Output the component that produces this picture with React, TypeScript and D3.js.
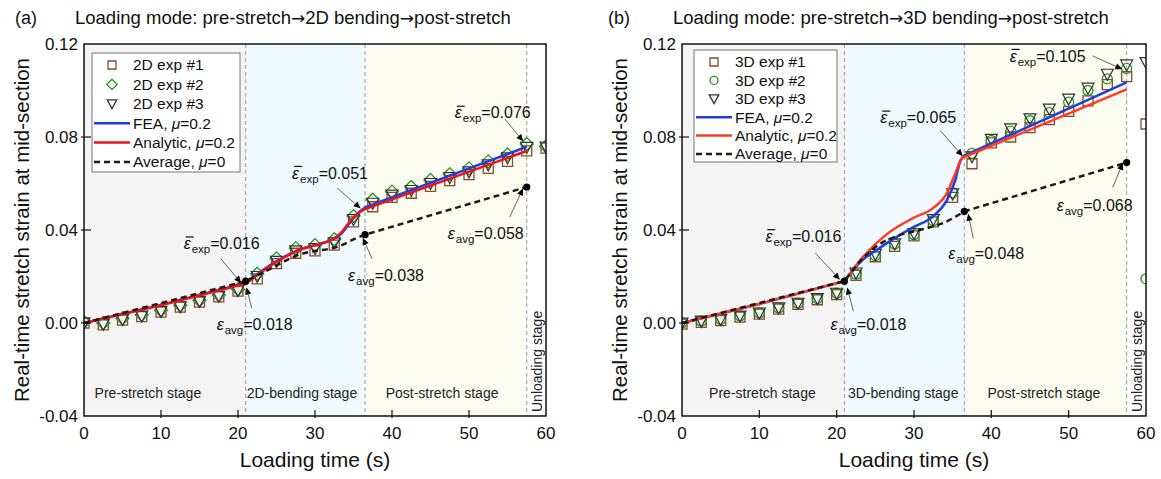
import React from 'react';
import * as d3 from 'd3';

// ---------------- DATA ----------------
const expTimes = [0, 2.5, 5, 7.5, 10, 12.5, 15, 17.5, 20, 22.5, 25, 27.5, 30, 32.5, 35, 37.5, 40, 42.5, 45, 47.5, 50, 52.5, 55, 57.5, 60];

// Panel (a) – 2D bending
const a_exp1 = [0.0, -0.0008, 0.0012, 0.0027, 0.0047, 0.0068, 0.009, 0.0112, 0.0137, 0.019, 0.0255, 0.030, 0.031, 0.0335, 0.0435, 0.050, 0.054, 0.0558, 0.0588, 0.0612, 0.0638, 0.0665, 0.0695, 0.074, 0.0752];
const a_exp2 = [0.0005, 0.0, 0.002, 0.0035, 0.0055, 0.0076, 0.0098, 0.012, 0.0145, 0.0212, 0.0278, 0.0322, 0.0335, 0.036, 0.046, 0.053, 0.0565, 0.0585, 0.0615, 0.064, 0.0665, 0.0695, 0.0725, 0.077, 0.076];
const a_exp3 = [0.0, -0.0005, 0.0015, 0.003, 0.005, 0.007, 0.0093, 0.0115, 0.014, 0.020, 0.0265, 0.031, 0.032, 0.0345, 0.0445, 0.0515, 0.055, 0.057, 0.060, 0.0625, 0.065, 0.068, 0.071, 0.0755, 0.0757];

const a_feaT = [0, 10, 21, 22.5, 24, 26, 28, 30, 32, 33.3, 34.5, 35.5, 36.5, 57.5];
const a_feaV = [0, 0.0078, 0.0172, 0.021, 0.0245, 0.0285, 0.0315, 0.0335, 0.0355, 0.038, 0.043, 0.047, 0.0497, 0.0758];
const a_anaT = [0, 10, 21, 22.5, 24, 26, 28, 30, 32, 33.3, 34.5, 35.5, 36.5, 57.5];
const a_anaV = [0, 0.0076, 0.017, 0.0205, 0.0242, 0.0282, 0.0315, 0.0335, 0.0355, 0.0385, 0.0435, 0.047, 0.049, 0.074];
const a_avgT = [0, 21, 24, 26, 28, 30, 32, 33.5, 35, 36.5, 57.5];
const a_avgV = [0, 0.018, 0.023, 0.0265, 0.0295, 0.031, 0.032, 0.0335, 0.036, 0.038, 0.0585];

// Panel (b) – 3D bending
const b_exp1 = [-0.0005, 0.0003, 0.001, 0.0025, 0.0038, 0.006, 0.008, 0.010, 0.0122, 0.0205, 0.0285, 0.033, 0.0375, 0.0435, 0.054, 0.0685, 0.0775, 0.080, 0.084, 0.0875, 0.091, 0.0955, 0.1025, 0.106, 0.0856];
const b_exp2 = [0.0, 0.0008, 0.0015, 0.003, 0.0043, 0.0065, 0.0085, 0.0105, 0.0128, 0.021, 0.029, 0.034, 0.038, 0.044, 0.056, 0.073, 0.0785, 0.0825, 0.087, 0.0905, 0.095, 0.100, 0.105, 0.1095, 0.019];
const b_exp3 = [0.0, 0.0008, 0.0015, 0.003, 0.0043, 0.0065, 0.0085, 0.0105, 0.0128, 0.0215, 0.0295, 0.034, 0.0385, 0.0445, 0.0555, 0.0715, 0.079, 0.0835, 0.0878, 0.092, 0.0963, 0.101, 0.107, 0.111, 0.112];

const b_feaT = [0, 10, 21, 23.3, 25, 26.8, 29.8, 32.5, 34.2, 35.3, 36, 36.5, 57.5];
const b_feaV = [0, 0.0082, 0.018, 0.027, 0.031, 0.035, 0.041, 0.046, 0.0525, 0.061, 0.0697, 0.072, 0.1035];
const b_anaT = [0, 10, 21, 23.3, 26.4, 29.8, 32.5, 34.2, 35.3, 36.2, 36.6, 57.5];
const b_anaV = [0, 0.0082, 0.018, 0.028, 0.038, 0.045, 0.0495, 0.0555, 0.064, 0.071, 0.0715, 0.1005];
const b_avgT = [0, 21, 23, 25.6, 27.8, 31.2, 33.8, 35.5, 36.5, 57.5];
const b_avgV = [0, 0.018, 0.0265, 0.034, 0.0374, 0.0404, 0.043, 0.046, 0.048, 0.069];

const stageBounds = [21, 36.5, 57.5];
const xTicks = [0, 10, 20, 30, 40, 50, 60];
const xTickLabels = ['0', '10', '20', '30', '40', '50', '60'];
const yTicks = [-0.04, 0, 0.04, 0.08, 0.12];
const yTickLabels = ['-0.04', '0.00', '0.04', '0.08', '0.12'];

const a_dotsT = [21, 36.5, 57.5];
const a_dotsV = [0.018, 0.038, 0.0585];
const b_dotsT = [21, 36.5, 57.5];
const b_dotsV = [0.018, 0.048, 0.069];

// annotations: kind, value, anchor (t,v), text offset, arrow start/end offsets
const a_notes = [
  { kind: 'exp', text: '=0.016', t: 21, v: 0.017, tx: -62, ty: -40, x0: -25, y0: -25, x1: -5, y1: -1 },
  { kind: 'avg', text: '=0.018', t: 21, v: 0.018, tx: -29, ty: 43, x0: 6, y0: 27, x1: 1, y1: 7 },
  { kind: 'exp', text: '=0.051', t: 36.5, v: 0.0495, tx: -73, ty: -35, x0: -28, y0: -20, x1: -5, y1: 0 },
  { kind: 'avg', text: '=0.038', t: 36.5, v: 0.038, tx: -17, ty: 41, x0: 7, y0: 24, x1: -2, y1: 4 },
  { kind: 'avg', text: '=0.058', t: 57.5, v: 0.0585, tx: -79, ty: 46, x0: -17, y0: 30, x1: -4, y1: 2 },
  { kind: 'exp', text: '=0.076', t: 57.5, v: 0.0758, tx: -72, ty: -34, x0: -22, y0: -28, x1: -4, y1: -6 },
];
const b_notes = [
  { kind: 'exp', text: '=0.016', t: 21, v: 0.018, tx: -79, ty: -45, x0: -29, y0: -28, x1: -5, y1: -2 },
  { kind: 'avg', text: '=0.018', t: 21, v: 0.018, tx: -14, ty: 43, x0: 9, y0: 30, x1: 3, y1: 7 },
  { kind: 'exp', text: '=0.065', t: 36.5, v: 0.072, tx: -84, ty: -38, x0: -24, y0: -25, x1: -2, y1: 0 },
  { kind: 'avg', text: '=0.048', t: 36.5, v: 0.048, tx: -16, ty: 42, x0: 9, y0: 27, x1: 4, y1: 3 },
  { kind: 'avg', text: '=0.068', t: 57.5, v: 0.069, tx: -70, ty: 43, x0: -14, y0: 25, x1: -4, y1: 1 },
  { kind: 'exp', text: '=0.105', t: 57.5, v: 0.111, tx: -117, ty: -9, x0: -34, y0: -9, x1: -5, y1: 4 },
];

const a_legend = ['2D exp #1', '2D exp #2', '2D exp #3'];
const b_legend = ['3D exp #1', '3D exp #2', '3D exp #3'];
const a_stages = ['Pre-stretch stage', '2D-bending stage', 'Post-stretch stage'];
const b_stages = ['Pre-stretch stage', '3D-bending stage', 'Post-stretch stage'];
const a_stageT = [8.3, 28.3, 46.5];
const b_stageT = [10.4, 28.6, 46.8];
const a_mode = ['pre-stretch', '2D bending', 'post-stretch'];
const b_mode = ['pre-stretch', '3D bending', 'post-stretch'];

// ---------------- STYLE ----------------
const FONT = "Arial, 'Liberation Sans', Helvetica, sans-serif";
const C_SQ = '#8a4a2a';
const C_GR = '#1f9a1f';
const C_TRI = '#333333';
const C_BLUE = '#1f3fdc';
const C_AVG = '#2a1414';
const BG = ['#f4f4f4', '#f0f9fd', '#fcfcf0', '#ffffff'];

const sqPath = (x: number, y: number) => `M${x - 5},${y - 5}h10v10h-10Z`;
const diaPath = (x: number, y: number) => `M${x},${y - 6.5}L${x + 6.5},${y}L${x},${y + 6.5}L${x - 6.5},${y}Z`;
const triPath = (x: number, y: number) => `M${x - 6},${y - 5}L${x + 6},${y - 5}L${x},${y + 6}Z`;

type Cfg = {
  id: string; left: number; right: number; tag: string; mode: string[];
  exp1: number[]; exp2: number[]; exp3: number[]; second: 'diamond' | 'circle';
  feaT: number[]; feaV: number[]; anaT: number[]; anaV: number[]; avgT: number[]; avgV: number[];
  red: string; dotsT: number[]; dotsV: number[]; notes: any[]; legend: string[];
  stages: string[]; stageT: number[]; legX: number; legY: number; legW: number; legH: number; legStep: number;
};

const TOP = 44, BOT = 416;

function Marker({ kind, x, y, color, small }: any) {
  const k = small ? 0.8 : 1;
  if (kind === 'square') return <path d={`M${x - 5 * k},${y - 5 * k}h${10 * k}v${10 * k}h${-10 * k}Z`} fill="none" stroke={color} strokeWidth={1.3} />;
  if (kind === 'diamond') return <path d={`M${x},${y - 6.5 * k}L${x + 6.5 * k},${y}L${x},${y + 6.5 * k}L${x - 6.5 * k},${y}Z`} fill="none" stroke={color} strokeWidth={1.3} />;
  if (kind === 'circle') return <circle cx={x} cy={y} r={5 * k} fill="none" stroke={color} strokeWidth={1.3} />;
  return <path d={`M${x - 6 * k},${y - 5 * k}L${x + 6 * k},${y - 5 * k}L${x},${y + 6 * k}Z`} fill="none" stroke={color} strokeWidth={1.3} />;
}

function Panel({ c }: { c: Cfg }) {
  const x = d3.scaleLinear().domain([0, 60]).range([c.left, c.right]);
  const y = d3.scaleLinear().domain([-0.04, 0.12]).range([BOT, TOP]);
  const linLine = d3.line<[number, number]>().x(d => x(d[0])).y(d => y(d[1]));
  const smLine = d3.line<[number, number]>().x(d => x(d[0])).y(d => y(d[1])).curve(d3.curveMonotoneX);
  // pre-stretch: straight; bending: smooth; post-stretch: straight
  const mk = (T: number[], V: number[]) => {
    const pts: [number, number][] = T.map((t, i) => [t, V[i]]);
    let k1 = 0, k2 = 0;
    T.forEach((t, i) => { if (t <= stageBounds[0]) k1 = i; if (t <= 36.6) k2 = i; });
    const s1 = linLine(pts.slice(0, k1 + 1)) || '';
    const s2 = (smLine(pts.slice(k1, k2 + 1)) || '').replace(/^M/, 'L');
    const s3 = (linLine(pts.slice(k2)) || '').replace(/^M/, 'L');
    return s1 + s2 + s3;
  };
  const regions = [0, ...stageBounds, 60];
  const off = c.left - 84;
  const arrowStyle = { fontFamily: "'DejaVu Sans', sans-serif", fontSize: 17 };
  return (
    <g>
      <defs>
        <clipPath id={`clip-${c.id}`}>
          <rect x={x(0)} y={TOP} width={x(60) - x(0)} height={BOT - TOP} />
        </clipPath>
      </defs>
      {regions.slice(0, -1).map((r, i) => (
        <rect key={i} x={x(r)} y={TOP} width={x(regions[i + 1]) - x(r)} height={BOT - TOP} fill={BG[i]} />
      ))}
      {stageBounds.map((s, i) => (
        <line key={i} x1={x(s)} x2={x(s)} y1={TOP} y2={BOT} stroke="#9a9a9a" strokeWidth={1} strokeDasharray="4,3" />
      ))}
      <g clipPath={`url(#clip-${c.id})`}>
        {expTimes.map((t, i) => <path key={'s' + i} d={sqPath(x(t), y(c.exp1[i]))} fill="none" stroke={C_SQ} strokeWidth={1.3} />)}
        {expTimes.map((t, i) => c.second === 'diamond'
          ? <path key={'d' + i} d={diaPath(x(t), y(c.exp2[i]))} fill="none" stroke={C_GR} strokeWidth={1.3} />
          : <circle key={'d' + i} cx={x(t)} cy={y(c.exp2[i])} r={5} fill="none" stroke={C_GR} strokeWidth={1.3} />)}
        {expTimes.map((t, i) => <path key={'t' + i} d={triPath(x(t), y(c.exp3[i]))} fill="none" stroke={C_TRI} strokeWidth={1.2} />)}
        <path d={mk(c.feaT, c.feaV)} fill="none" stroke={C_BLUE} strokeWidth={2.5} />
        <path d={mk(c.anaT, c.anaV)} fill="none" stroke={c.red} strokeWidth={2.5} />
        <path d={mk(c.avgT, c.avgV)} fill="none" stroke={C_AVG} strokeWidth={2.5} strokeDasharray="6,4" />
        {c.dotsT.map((t, i) => <circle key={i} cx={x(t)} cy={y(c.dotsV[i])} r={3.6} fill="#000" />)}
      </g>
      {/* frame */}
      <rect x={x(0)} y={TOP} width={x(60) - x(0)} height={BOT - TOP} fill="none" stroke="#111" strokeWidth={1.5} />
      {/* y ticks */}
      {yTicks.map((v, i) => (
        <g key={i}>
          {i > 0 && i < yTicks.length - 1 && <line x1={x(0) - 3} x2={x(0) + 7} y1={y(v)} y2={y(v)} stroke="#111" strokeWidth={1.2} />}
          <text x={x(0) - 6} y={y(v)} dy="0.35em" textAnchor="end" fontSize={17} fontFamily={FONT} fill="#111">{yTickLabels[i]}</text>
        </g>
      ))}
      {xTicks.map((t, i) => (
        <g key={i}>
          {i > 0 && i < xTicks.length - 1 && <line x1={x(t)} x2={x(t)} y1={BOT + 2} y2={BOT - 6} stroke="#111" strokeWidth={1.2} />}
          <text x={x(t)} y={BOT + 23} textAnchor="middle" fontSize={17} fontFamily={FONT} fill="#111">{xTickLabels[i]}</text>
        </g>
      ))}
      {/* axis titles */}
      <text x={(x(0) + x(60)) / 2} y={467} textAnchor="middle" fontSize={21} fontFamily={FONT} fill="#111">Loading time (s)</text>
      <text transform={`translate(${22 + off},${230}) rotate(-90)`} textAnchor="middle" dy="0.35em" fontSize={20.5} fontFamily={FONT} fill="#111">Real-time stretch strain at mid-section</text>
      {/* title */}
      <text x={15 + off - (c.id === 'b' ? 5 : 0)} y={24} fontSize={18} fontFamily={FONT} fill="#111">{c.tag}</text>
      <text x={75 + off} y={24} fontSize={18.5} fontFamily={FONT} fill="#111">
        <tspan>{'Loading mode: ' + c.mode[0]}</tspan>
        <tspan style={arrowStyle}>{'\u2192'}</tspan>
        <tspan>{c.mode[1]}</tspan>
        <tspan style={arrowStyle}>{'\u2192'}</tspan>
        <tspan>{c.mode[2]}</tspan>
      </text>
      {/* stage labels */}
      {c.stages.map((s, i) => (
        <text key={i} x={x(c.stageT[i])} y={398} textAnchor="middle" fontSize={14} fontFamily={FONT} fill="#222">{s}</text>
      ))}
      <text transform={`translate(${x(58.8)},${412}) rotate(-90)`} fontSize={14} fontFamily={FONT} fill="#222" dy="0.35em">Unloading stage</text>
      {/* annotations */}
      {c.notes.map((n, i) => {
        const ax = x(n.t), ay = y(n.v);
        const tx = ax + n.tx, ty = ay + n.ty;
        return (
          <g key={i}>
            <line x1={ax + n.x0} y1={ay + n.y0} x2={ax + n.x1} y2={ay + n.y1} stroke="#555" strokeWidth={0.9} markerEnd="url(#arrowhead)" />
            {n.kind === 'exp' && <line x1={tx + 2} x2={tx + 10} y1={ty - 6.5} y2={ty - 6.5} stroke="#111" strokeWidth={1.2} />}
            <text x={tx} y={ty} dy="0.35em" fontSize={16} fontFamily={FONT} fill="#111">
              <tspan fontStyle="italic">{'ε'}</tspan>
              <tspan fontSize={11.5} dy={4} dx={1}>{n.kind === 'exp' ? 'exp' : 'avg'}</tspan>
              <tspan dy={-4}>{n.text}</tspan>
            </text>
          </g>
        );
      })}
      {/* legend */}
      <g transform={`translate(${x(0) + c.legX},${TOP + c.legY})`}>
        <rect x={0} y={0} width={c.legW} height={c.legH} fill="#fff" stroke="#777" strokeWidth={1} />
        {[0, 1, 2, 3, 4, 5].map((i) => {
          const yy = 12 + i * c.legStep;
          const lx0 = 2, lx1 = 38, mx = 20, tx = 41;
          let sym: any = null;
          if (i === 0) sym = <Marker kind="square" x={mx} y={yy} color={C_SQ} small />;
          if (i === 1) sym = <Marker kind={c.second} x={mx} y={yy} color={C_GR} small />;
          if (i === 2) sym = <Marker kind="tri" x={mx} y={yy} color={C_TRI} small />;
          if (i === 3) sym = <line x1={lx0} x2={lx1} y1={yy} y2={yy} stroke={C_BLUE} strokeWidth={2.5} />;
          if (i === 4) sym = <line x1={lx0} x2={lx1} y1={yy} y2={yy} stroke={c.red} strokeWidth={2.5} />;
          if (i === 5) sym = <line x1={lx0} x2={lx1} y1={yy} y2={yy} stroke={C_AVG} strokeWidth={2.5} strokeDasharray="6,4" />;
          const label = i < 3 ? <tspan>{c.legend[i]}</tspan>
            : i === 3 ? <><tspan>FEA, </tspan><tspan fontStyle="italic">μ</tspan><tspan>=0.2</tspan></>
            : i === 4 ? <><tspan>Analytic, </tspan><tspan fontStyle="italic">μ</tspan><tspan>=0.2</tspan></>
            : <><tspan>Average, </tspan><tspan fontStyle="italic">μ</tspan><tspan>=0</tspan></>;
          return (
            <g key={i}>
              {sym}
              <text x={tx} y={yy} dy="0.35em" fontSize={15.5} fontFamily={FONT} fill="#111">{label}</text>
            </g>
          );
        })}
      </g>
    </g>
  );
}

const panelA: Cfg = {
  id: 'a', left: 84, right: 546, tag: '(a)', mode: a_mode,
  exp1: a_exp1, exp2: a_exp2, exp3: a_exp3, second: 'diamond',
  feaT: a_feaT, feaV: a_feaV, anaT: a_anaT, anaV: a_anaV, avgT: a_avgT, avgV: a_avgV,
  red: '#e8141c', dotsT: a_dotsT, dotsV: a_dotsV, notes: a_notes, legend: a_legend,
  stages: a_stages, stageT: a_stageT, legX: 8, legY: 9, legW: 148, legH: 119, legStep: 19.4,
};
const panelB: Cfg = {
  id: 'b', left: 682, right: 1146, tag: '(b)', mode: b_mode,
  exp1: b_exp1, exp2: b_exp2, exp3: b_exp3, second: 'circle',
  feaT: b_feaT, feaV: b_feaV, anaT: b_anaT, anaV: b_anaV, avgT: b_avgT, avgV: b_avgV,
  red: '#ff3a1e', dotsT: b_dotsT, dotsV: b_dotsV, notes: b_notes, legend: b_legend,
  stages: b_stages, stageT: b_stageT, legX: 12, legY: 6, legW: 143, legH: 112, legStep: 18.4,
};

export default function App() {
  return (
    <svg width={1161} height={479} viewBox="0 0 1161 479" style={{ position: 'absolute', left: 0, top: 0, background: '#fff' }}>
      <defs>
        <marker id="arrowhead" viewBox="0 0 10 10" refX={9} refY={5} markerWidth={8} markerHeight={7} markerUnits="userSpaceOnUse" orient="auto">
          <path d="M0,0.5 L10,5 L0,9.5 Z" fill="#000" />
        </marker>
      </defs>
      <rect x={0} y={0} width={1161} height={479} fill="#fff" />
      <Panel c={panelA} />
      <Panel c={panelB} />
    </svg>
  );
}
